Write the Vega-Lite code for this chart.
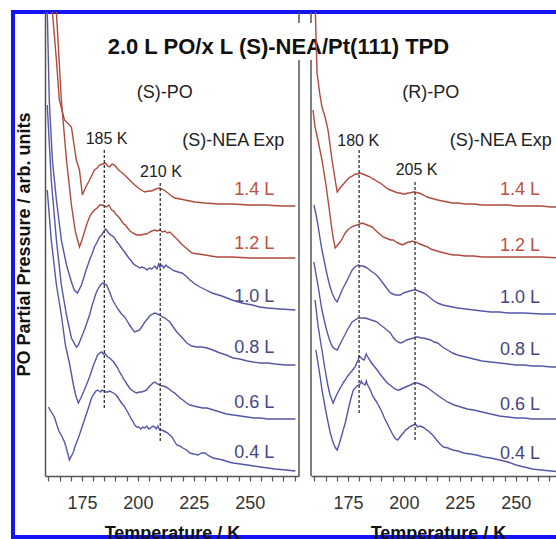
{
"$schema": "https://vega.github.io/schema/vega-lite/v6.json",
"width": 560, "height": 525,
"autosize": {"type": "none"},
"padding": {"left": 13, "top": 12, "right": -17, "bottom": 2},
"background": "white",
"config": {"view": {"stroke": "#1414f2", "strokeWidth": 4}, "font": "Liberation Sans", "axis": {"labelOverlap": false}, "axisX": {"labelOverlap": false}},
"datasets": {
"curves": [
{"p":"S","d":"1.4 L","T":160.4,"P":516},{"p":"S","d":"1.4 L","T":161.8,"P":464},{"p":"S","d":"1.4 L","T":163.6,"P":416},{"p":"S","d":"1.4 L","T":164.9,"P":376},{"p":"S","d":"1.4 L","T":167.2,"P":356},{"p":"S","d":"1.4 L","T":170.3,"P":349},{"p":"S","d":"1.4 L","T":172.5,"P":316},{"p":"S","d":"1.4 L","T":173.9,"P":306},{"p":"S","d":"1.4 L","T":175.2,"P":281},{"p":"S","d":"1.4 L","T":176.1,"P":286},{"p":"S","d":"1.4 L","T":177.2,"P":291},{"p":"S","d":"1.4 L","T":178.4,"P":296},{"p":"S","d":"1.4 L","T":179.5,"P":301},{"p":"S","d":"1.4 L","T":180.6,"P":306},{"p":"S","d":"1.4 L","T":181.8,"P":308},{"p":"S","d":"1.4 L","T":182.9,"P":311},{"p":"S","d":"1.4 L","T":184.2,"P":312},{"p":"S","d":"1.4 L","T":185.6,"P":313},{"p":"S","d":"1.4 L","T":186.5,"P":310},{"p":"S","d":"1.4 L","T":187.4,"P":309},{"p":"S","d":"1.4 L","T":188.5,"P":312},{"p":"S","d":"1.4 L","T":189.6,"P":311},{"p":"S","d":"1.4 L","T":191.0,"P":307},{"p":"S","d":"1.4 L","T":192.5,"P":304},{"p":"S","d":"1.4 L","T":194.1,"P":301},{"p":"S","d":"1.4 L","T":196.3,"P":296},{"p":"S","d":"1.4 L","T":198.6,"P":291},{"p":"S","d":"1.4 L","T":200.8,"P":287},{"p":"S","d":"1.4 L","T":203.1,"P":284},{"p":"S","d":"1.4 L","T":204.7,"P":285},{"p":"S","d":"1.4 L","T":206.2,"P":285},{"p":"S","d":"1.4 L","T":208.0,"P":287},{"p":"S","d":"1.4 L","T":209.8,"P":288},{"p":"S","d":"1.4 L","T":211.6,"P":286},{"p":"S","d":"1.4 L","T":213.4,"P":283},{"p":"S","d":"1.4 L","T":215.0,"P":280},{"p":"S","d":"1.4 L","T":216.5,"P":278},{"p":"S","d":"1.4 L","T":219.0,"P":277},{"p":"S","d":"1.4 L","T":221.0,"P":276},{"p":"S","d":"1.4 L","T":225.5,"P":274},{"p":"S","d":"1.4 L","T":230.0,"P":273},{"p":"S","d":"1.4 L","T":236.0,"P":272},{"p":"S","d":"1.4 L","T":242.1,"P":272},{"p":"S","d":"1.4 L","T":250.0,"P":271},{"p":"S","d":"1.4 L","T":257.0,"P":271},{"p":"S","d":"1.4 L","T":264.0,"P":270},{"p":"S","d":"1.4 L","T":270.4,"P":270},
{"p":"S","d":"1.2 L","T":162.2,"P":496},{"p":"S","d":"1.2 L","T":163.6,"P":464},{"p":"S","d":"1.2 L","T":165.8,"P":376},{"p":"S","d":"1.2 L","T":168.1,"P":316},{"p":"S","d":"1.2 L","T":170.3,"P":271},{"p":"S","d":"1.2 L","T":172.1,"P":244},{"p":"S","d":"1.2 L","T":173.9,"P":229},{"p":"S","d":"1.2 L","T":175.0,"P":236},{"p":"S","d":"1.2 L","T":176.1,"P":244},{"p":"S","d":"1.2 L","T":177.2,"P":252},{"p":"S","d":"1.2 L","T":178.4,"P":259},{"p":"S","d":"1.2 L","T":179.5,"P":263},{"p":"S","d":"1.2 L","T":180.6,"P":266},{"p":"S","d":"1.2 L","T":181.8,"P":268},{"p":"S","d":"1.2 L","T":182.9,"P":271},{"p":"S","d":"1.2 L","T":184.2,"P":271},{"p":"S","d":"1.2 L","T":185.1,"P":270},{"p":"S","d":"1.2 L","T":186.0,"P":269},{"p":"S","d":"1.2 L","T":187.0,"P":271},{"p":"S","d":"1.2 L","T":188.3,"P":266},{"p":"S","d":"1.2 L","T":189.2,"P":265},{"p":"S","d":"1.2 L","T":190.1,"P":262},{"p":"S","d":"1.2 L","T":191.0,"P":260},{"p":"S","d":"1.2 L","T":191.8,"P":258},{"p":"S","d":"1.2 L","T":193.6,"P":252},{"p":"S","d":"1.2 L","T":194.5,"P":251},{"p":"S","d":"1.2 L","T":195.4,"P":248},{"p":"S","d":"1.2 L","T":196.5,"P":245},{"p":"S","d":"1.2 L","T":197.7,"P":243},{"p":"S","d":"1.2 L","T":199.5,"P":241},{"p":"S","d":"1.2 L","T":201.7,"P":241},{"p":"S","d":"1.2 L","T":203.0,"P":242},{"p":"S","d":"1.2 L","T":204.0,"P":242},{"p":"S","d":"1.2 L","T":205.3,"P":244},{"p":"S","d":"1.2 L","T":206.2,"P":245},{"p":"S","d":"1.2 L","T":207.5,"P":246},{"p":"S","d":"1.2 L","T":208.5,"P":245},{"p":"S","d":"1.2 L","T":209.8,"P":246},{"p":"S","d":"1.2 L","T":211.0,"P":244},{"p":"S","d":"1.2 L","T":212.1,"P":245},{"p":"S","d":"1.2 L","T":213.2,"P":243},{"p":"S","d":"1.2 L","T":214.3,"P":244},{"p":"S","d":"1.2 L","T":216.0,"P":240},{"p":"S","d":"1.2 L","T":217.9,"P":236},{"p":"S","d":"1.2 L","T":219.5,"P":232},{"p":"S","d":"1.2 L","T":221.0,"P":229},{"p":"S","d":"1.2 L","T":222.6,"P":226},{"p":"S","d":"1.2 L","T":224.2,"P":223},{"p":"S","d":"1.2 L","T":227.0,"P":222},{"p":"S","d":"1.2 L","T":230.0,"P":221},{"p":"S","d":"1.2 L","T":235.4,"P":219},{"p":"S","d":"1.2 L","T":242.1,"P":219},{"p":"S","d":"1.2 L","T":250.0,"P":218},{"p":"S","d":"1.2 L","T":257.0,"P":218},{"p":"S","d":"1.2 L","T":264.0,"P":218},{"p":"S","d":"1.2 L","T":270.4,"P":218},
{"p":"S","d":"1.0 L","T":159.5,"P":466},{"p":"S","d":"1.0 L","T":160.4,"P":376},{"p":"S","d":"1.0 L","T":161.8,"P":316},{"p":"S","d":"1.0 L","T":163.6,"P":276},{"p":"S","d":"1.0 L","T":165.8,"P":236},{"p":"S","d":"1.0 L","T":168.1,"P":211},{"p":"S","d":"1.0 L","T":170.3,"P":194},{"p":"S","d":"1.0 L","T":171.6,"P":186},{"p":"S","d":"1.0 L","T":173.0,"P":183},{"p":"S","d":"1.0 L","T":174.8,"P":191},{"p":"S","d":"1.0 L","T":176.6,"P":204},{"p":"S","d":"1.0 L","T":178.4,"P":216},{"p":"S","d":"1.0 L","T":179.5,"P":222},{"p":"S","d":"1.0 L","T":180.6,"P":229},{"p":"S","d":"1.0 L","T":181.8,"P":234},{"p":"S","d":"1.0 L","T":182.9,"P":239},{"p":"S","d":"1.0 L","T":183.8,"P":241},{"p":"S","d":"1.0 L","T":184.7,"P":244},{"p":"S","d":"1.0 L","T":185.5,"P":247},{"p":"S","d":"1.0 L","T":186.0,"P":246},{"p":"S","d":"1.0 L","T":186.9,"P":243},{"p":"S","d":"1.0 L","T":187.8,"P":241},{"p":"S","d":"1.0 L","T":188.7,"P":240},{"p":"S","d":"1.0 L","T":189.6,"P":238},{"p":"S","d":"1.0 L","T":190.7,"P":234},{"p":"S","d":"1.0 L","T":191.8,"P":231},{"p":"S","d":"1.0 L","T":193.0,"P":227},{"p":"S","d":"1.0 L","T":194.1,"P":224},{"p":"S","d":"1.0 L","T":195.0,"P":221},{"p":"S","d":"1.0 L","T":195.9,"P":218},{"p":"S","d":"1.0 L","T":196.8,"P":216},{"p":"S","d":"1.0 L","T":197.7,"P":213},{"p":"S","d":"1.0 L","T":198.6,"P":211},{"p":"S","d":"1.0 L","T":199.5,"P":210},{"p":"S","d":"1.0 L","T":200.8,"P":208},{"p":"S","d":"1.0 L","T":201.7,"P":209},{"p":"S","d":"1.0 L","T":203.1,"P":208},{"p":"S","d":"1.0 L","T":204.0,"P":206},{"p":"S","d":"1.0 L","T":205.3,"P":208},{"p":"S","d":"1.0 L","T":206.2,"P":207},{"p":"S","d":"1.0 L","T":207.6,"P":210},{"p":"S","d":"1.0 L","T":208.5,"P":207},{"p":"S","d":"1.0 L","T":209.3,"P":212},{"p":"S","d":"1.0 L","T":209.8,"P":209},{"p":"S","d":"1.0 L","T":210.7,"P":211},{"p":"S","d":"1.0 L","T":211.6,"P":208},{"p":"S","d":"1.0 L","T":212.5,"P":211},{"p":"S","d":"1.0 L","T":213.4,"P":209},{"p":"S","d":"1.0 L","T":214.3,"P":208},{"p":"S","d":"1.0 L","T":215.5,"P":206},{"p":"S","d":"1.0 L","T":216.5,"P":205},{"p":"S","d":"1.0 L","T":218.0,"P":204},{"p":"S","d":"1.0 L","T":219.7,"P":203},{"p":"S","d":"1.0 L","T":221.5,"P":200},{"p":"S","d":"1.0 L","T":223.3,"P":196},{"p":"S","d":"1.0 L","T":225.5,"P":192},{"p":"S","d":"1.0 L","T":227.8,"P":189},{"p":"S","d":"1.0 L","T":230.4,"P":186},{"p":"S","d":"1.0 L","T":233.1,"P":183},{"p":"S","d":"1.0 L","T":237.5,"P":180},{"p":"S","d":"1.0 L","T":242.1,"P":176},{"p":"S","d":"1.0 L","T":246.5,"P":173},{"p":"S","d":"1.0 L","T":251.1,"P":171},{"p":"S","d":"1.0 L","T":254.5,"P":169},{"p":"S","d":"1.0 L","T":257.8,"P":168},{"p":"S","d":"1.0 L","T":263.6,"P":167},{"p":"S","d":"1.0 L","T":270.4,"P":166},
{"p":"S","d":"0.8 L","T":159.5,"P":371},{"p":"S","d":"0.8 L","T":161.3,"P":296},{"p":"S","d":"0.8 L","T":163.6,"P":236},{"p":"S","d":"0.8 L","T":165.8,"P":191},{"p":"S","d":"0.8 L","T":168.1,"P":161},{"p":"S","d":"0.8 L","T":170.3,"P":138},{"p":"S","d":"0.8 L","T":172.5,"P":129},{"p":"S","d":"0.8 L","T":173.4,"P":131},{"p":"S","d":"0.8 L","T":174.3,"P":136},{"p":"S","d":"0.8 L","T":175.2,"P":141},{"p":"S","d":"0.8 L","T":176.1,"P":146},{"p":"S","d":"0.8 L","T":177.2,"P":153},{"p":"S","d":"0.8 L","T":178.4,"P":161},{"p":"S","d":"0.8 L","T":179.5,"P":170},{"p":"S","d":"0.8 L","T":180.6,"P":178},{"p":"S","d":"0.8 L","T":181.5,"P":184},{"p":"S","d":"0.8 L","T":182.4,"P":188},{"p":"S","d":"0.8 L","T":183.3,"P":191},{"p":"S","d":"0.8 L","T":184.2,"P":193},{"p":"S","d":"0.8 L","T":185.1,"P":192},{"p":"S","d":"0.8 L","T":186.0,"P":191},{"p":"S","d":"0.8 L","T":187.4,"P":184},{"p":"S","d":"0.8 L","T":188.7,"P":176},{"p":"S","d":"0.8 L","T":190.0,"P":171},{"p":"S","d":"0.8 L","T":191.4,"P":166},{"p":"S","d":"0.8 L","T":192.7,"P":162},{"p":"S","d":"0.8 L","T":194.1,"P":159},{"p":"S","d":"0.8 L","T":195.2,"P":155},{"p":"S","d":"0.8 L","T":196.3,"P":151},{"p":"S","d":"0.8 L","T":197.5,"P":147},{"p":"S","d":"0.8 L","T":198.6,"P":144},{"p":"S","d":"0.8 L","T":199.7,"P":145},{"p":"S","d":"0.8 L","T":200.8,"P":146},{"p":"S","d":"0.8 L","T":202.0,"P":150},{"p":"S","d":"0.8 L","T":203.1,"P":154},{"p":"S","d":"0.8 L","T":204.2,"P":157},{"p":"S","d":"0.8 L","T":205.3,"P":160},{"p":"S","d":"0.8 L","T":206.5,"P":162},{"p":"S","d":"0.8 L","T":207.6,"P":163},{"p":"S","d":"0.8 L","T":208.7,"P":162},{"p":"S","d":"0.8 L","T":209.8,"P":161},{"p":"S","d":"0.8 L","T":211.0,"P":159},{"p":"S","d":"0.8 L","T":212.1,"P":158},{"p":"S","d":"0.8 L","T":213.2,"P":156},{"p":"S","d":"0.8 L","T":214.3,"P":154},{"p":"S","d":"0.8 L","T":215.8,"P":149},{"p":"S","d":"0.8 L","T":217.4,"P":144},{"p":"S","d":"0.8 L","T":219.5,"P":139},{"p":"S","d":"0.8 L","T":221.9,"P":133},{"p":"S","d":"0.8 L","T":224.0,"P":130},{"p":"S","d":"0.8 L","T":226.4,"P":129},{"p":"S","d":"0.8 L","T":228.5,"P":129},{"p":"S","d":"0.8 L","T":230.9,"P":128},{"p":"S","d":"0.8 L","T":233.5,"P":126},{"p":"S","d":"0.8 L","T":236.7,"P":123},{"p":"S","d":"0.8 L","T":239.5,"P":121},{"p":"S","d":"0.8 L","T":242.6,"P":118},{"p":"S","d":"0.8 L","T":245.5,"P":117},{"p":"S","d":"0.8 L","T":248.9,"P":115},{"p":"S","d":"0.8 L","T":251.5,"P":114},{"p":"S","d":"0.8 L","T":254.7,"P":113},{"p":"S","d":"0.8 L","T":258.0,"P":113},{"p":"S","d":"0.8 L","T":261.4,"P":112},{"p":"S","d":"0.8 L","T":266.0,"P":111},{"p":"S","d":"0.8 L","T":270.4,"P":111},
{"p":"S","d":"0.6 L","T":159.5,"P":286},{"p":"S","d":"0.6 L","T":161.3,"P":236},{"p":"S","d":"0.6 L","T":163.6,"P":191},{"p":"S","d":"0.6 L","T":165.8,"P":161},{"p":"S","d":"0.6 L","T":167.6,"P":131},{"p":"S","d":"0.6 L","T":169.4,"P":113},{"p":"S","d":"0.6 L","T":171.2,"P":91},{"p":"S","d":"0.6 L","T":172.3,"P":80},{"p":"S","d":"0.6 L","T":173.4,"P":73},{"p":"S","d":"0.6 L","T":174.5,"P":78},{"p":"S","d":"0.6 L","T":175.7,"P":84},{"p":"S","d":"0.6 L","T":177.0,"P":91},{"p":"S","d":"0.6 L","T":178.4,"P":99},{"p":"S","d":"0.6 L","T":179.3,"P":105},{"p":"S","d":"0.6 L","T":180.2,"P":111},{"p":"S","d":"0.6 L","T":181.1,"P":116},{"p":"S","d":"0.6 L","T":182.0,"P":121},{"p":"S","d":"0.6 L","T":182.9,"P":123},{"p":"S","d":"0.6 L","T":183.8,"P":124},{"p":"S","d":"0.6 L","T":184.5,"P":122},{"p":"S","d":"0.6 L","T":185.1,"P":123},{"p":"S","d":"0.6 L","T":185.8,"P":121},{"p":"S","d":"0.6 L","T":186.5,"P":119},{"p":"S","d":"0.6 L","T":187.4,"P":118},{"p":"S","d":"0.6 L","T":188.3,"P":116},{"p":"S","d":"0.6 L","T":189.2,"P":114},{"p":"S","d":"0.6 L","T":190.1,"P":111},{"p":"S","d":"0.6 L","T":191.0,"P":108},{"p":"S","d":"0.6 L","T":191.8,"P":104},{"p":"S","d":"0.6 L","T":192.7,"P":101},{"p":"S","d":"0.6 L","T":193.6,"P":97},{"p":"S","d":"0.6 L","T":194.5,"P":94},{"p":"S","d":"0.6 L","T":195.4,"P":91},{"p":"S","d":"0.6 L","T":196.3,"P":88},{"p":"S","d":"0.6 L","T":197.2,"P":86},{"p":"S","d":"0.6 L","T":198.4,"P":84},{"p":"S","d":"0.6 L","T":199.5,"P":83},{"p":"S","d":"0.6 L","T":200.6,"P":84},{"p":"S","d":"0.6 L","T":201.7,"P":84},{"p":"S","d":"0.6 L","T":202.9,"P":85},{"p":"S","d":"0.6 L","T":204.0,"P":86},{"p":"S","d":"0.6 L","T":204.9,"P":89},{"p":"S","d":"0.6 L","T":205.8,"P":91},{"p":"S","d":"0.6 L","T":206.7,"P":93},{"p":"S","d":"0.6 L","T":207.6,"P":94},{"p":"S","d":"0.6 L","T":208.7,"P":92},{"p":"S","d":"0.6 L","T":209.8,"P":91},{"p":"S","d":"0.6 L","T":210.7,"P":90},{"p":"S","d":"0.6 L","T":211.6,"P":90},{"p":"S","d":"0.6 L","T":212.5,"P":89},{"p":"S","d":"0.6 L","T":213.4,"P":88},{"p":"S","d":"0.6 L","T":214.5,"P":86},{"p":"S","d":"0.6 L","T":215.6,"P":84},{"p":"S","d":"0.6 L","T":216.5,"P":83},{"p":"S","d":"0.6 L","T":217.4,"P":81},{"p":"S","d":"0.6 L","T":218.8,"P":78},{"p":"S","d":"0.6 L","T":220.1,"P":76},{"p":"S","d":"0.6 L","T":221.7,"P":73},{"p":"S","d":"0.6 L","T":223.3,"P":71},{"p":"S","d":"0.6 L","T":225.0,"P":70},{"p":"S","d":"0.6 L","T":226.9,"P":69},{"p":"S","d":"0.6 L","T":229.0,"P":68},{"p":"S","d":"0.6 L","T":230.9,"P":68},{"p":"S","d":"0.6 L","T":233.8,"P":66},{"p":"S","d":"0.6 L","T":236.7,"P":64},{"p":"S","d":"0.6 L","T":239.5,"P":62},{"p":"S","d":"0.6 L","T":242.6,"P":61},{"p":"S","d":"0.6 L","T":245.8,"P":60},{"p":"S","d":"0.6 L","T":248.9,"P":59},{"p":"S","d":"0.6 L","T":251.8,"P":58},{"p":"S","d":"0.6 L","T":254.7,"P":58},{"p":"S","d":"0.6 L","T":258.0,"P":57},{"p":"S","d":"0.6 L","T":261.4,"P":57},{"p":"S","d":"0.6 L","T":266.0,"P":57},{"p":"S","d":"0.6 L","T":270.4,"P":57},
{"p":"S","d":"0.4 L","T":160.0,"P":69},{"p":"S","d":"0.4 L","T":161.3,"P":64},{"p":"S","d":"0.4 L","T":162.7,"P":59},{"p":"S","d":"0.4 L","T":163.8,"P":51},{"p":"S","d":"0.4 L","T":164.9,"P":44},{"p":"S","d":"0.4 L","T":166.0,"P":40},{"p":"S","d":"0.4 L","T":167.2,"P":34},{"p":"S","d":"0.4 L","T":167.9,"P":29},{"p":"S","d":"0.4 L","T":168.5,"P":24},{"p":"S","d":"0.4 L","T":169.0,"P":20},{"p":"S","d":"0.4 L","T":169.4,"P":16},{"p":"S","d":"0.4 L","T":170.3,"P":20},{"p":"S","d":"0.4 L","T":171.2,"P":24},{"p":"S","d":"0.4 L","T":171.8,"P":29},{"p":"S","d":"0.4 L","T":172.5,"P":33},{"p":"S","d":"0.4 L","T":173.4,"P":38},{"p":"S","d":"0.4 L","T":174.3,"P":44},{"p":"S","d":"0.4 L","T":175.2,"P":50},{"p":"S","d":"0.4 L","T":176.1,"P":56},{"p":"S","d":"0.4 L","T":177.0,"P":62},{"p":"S","d":"0.4 L","T":177.9,"P":68},{"p":"S","d":"0.4 L","T":178.6,"P":73},{"p":"S","d":"0.4 L","T":179.3,"P":78},{"p":"S","d":"0.4 L","T":180.0,"P":81},{"p":"S","d":"0.4 L","T":180.6,"P":83},{"p":"S","d":"0.4 L","T":181.3,"P":85},{"p":"S","d":"0.4 L","T":182.0,"P":86},{"p":"S","d":"0.4 L","T":182.7,"P":85},{"p":"S","d":"0.4 L","T":183.3,"P":84},{"p":"S","d":"0.4 L","T":184.0,"P":86},{"p":"S","d":"0.4 L","T":184.7,"P":85},{"p":"S","d":"0.4 L","T":185.6,"P":84},{"p":"S","d":"0.4 L","T":186.5,"P":84},{"p":"S","d":"0.4 L","T":187.4,"P":85},{"p":"S","d":"0.4 L","T":188.3,"P":84},{"p":"S","d":"0.4 L","T":189.0,"P":83},{"p":"S","d":"0.4 L","T":189.6,"P":82},{"p":"S","d":"0.4 L","T":190.3,"P":81},{"p":"S","d":"0.4 L","T":190.9,"P":79},{"p":"S","d":"0.4 L","T":191.8,"P":76},{"p":"S","d":"0.4 L","T":192.7,"P":73},{"p":"S","d":"0.4 L","T":193.8,"P":70},{"p":"S","d":"0.4 L","T":194.9,"P":66},{"p":"S","d":"0.4 L","T":195.9,"P":62},{"p":"S","d":"0.4 L","T":196.8,"P":58},{"p":"S","d":"0.4 L","T":197.7,"P":55},{"p":"S","d":"0.4 L","T":198.6,"P":51},{"p":"S","d":"0.4 L","T":199.5,"P":49},{"p":"S","d":"0.4 L","T":200.4,"P":49},{"p":"S","d":"0.4 L","T":201.3,"P":47},{"p":"S","d":"0.4 L","T":202.2,"P":49},{"p":"S","d":"0.4 L","T":203.1,"P":48},{"p":"S","d":"0.4 L","T":204.0,"P":50},{"p":"S","d":"0.4 L","T":204.9,"P":47},{"p":"S","d":"0.4 L","T":205.8,"P":48},{"p":"S","d":"0.4 L","T":206.7,"P":50},{"p":"S","d":"0.4 L","T":207.6,"P":49},{"p":"S","d":"0.4 L","T":208.2,"P":47},{"p":"S","d":"0.4 L","T":208.9,"P":50},{"p":"S","d":"0.4 L","T":209.8,"P":46},{"p":"S","d":"0.4 L","T":210.7,"P":46},{"p":"S","d":"0.4 L","T":211.6,"P":45},{"p":"S","d":"0.4 L","T":212.5,"P":44},{"p":"S","d":"0.4 L","T":213.4,"P":43},{"p":"S","d":"0.4 L","T":214.3,"P":41},{"p":"S","d":"0.4 L","T":215.2,"P":39},{"p":"S","d":"0.4 L","T":216.3,"P":35},{"p":"S","d":"0.4 L","T":217.4,"P":31},{"p":"S","d":"0.4 L","T":218.8,"P":30},{"p":"S","d":"0.4 L","T":220.1,"P":28},{"p":"S","d":"0.4 L","T":221.7,"P":26},{"p":"S","d":"0.4 L","T":223.3,"P":23},{"p":"S","d":"0.4 L","T":225.0,"P":22},{"p":"S","d":"0.4 L","T":226.9,"P":21},{"p":"S","d":"0.4 L","T":228.5,"P":23},{"p":"S","d":"0.4 L","T":230.0,"P":23},{"p":"S","d":"0.4 L","T":231.8,"P":20},{"p":"S","d":"0.4 L","T":233.6,"P":18},{"p":"S","d":"0.4 L","T":235.8,"P":17},{"p":"S","d":"0.4 L","T":238.1,"P":16},{"p":"S","d":"0.4 L","T":240.5,"P":14},{"p":"S","d":"0.4 L","T":242.6,"P":13},{"p":"S","d":"0.4 L","T":245.8,"P":12},{"p":"S","d":"0.4 L","T":248.9,"P":11},{"p":"S","d":"0.4 L","T":251.8,"P":10},{"p":"S","d":"0.4 L","T":254.7,"P":9},{"p":"S","d":"0.4 L","T":258.0,"P":8},{"p":"S","d":"0.4 L","T":261.4,"P":7},{"p":"S","d":"0.4 L","T":266.0,"P":6},{"p":"S","d":"0.4 L","T":270.4,"P":5},
{"p":"R","d":"1.4 L","T":159.4,"P":520},{"p":"R","d":"1.4 L","T":160.3,"P":476},{"p":"R","d":"1.4 L","T":161.2,"P":403},{"p":"R","d":"1.4 L","T":162.5,"P":381},{"p":"R","d":"1.4 L","T":163.4,"P":369},{"p":"R","d":"1.4 L","T":164.8,"P":359},{"p":"R","d":"1.4 L","T":166.1,"P":346},{"p":"R","d":"1.4 L","T":167.0,"P":331},{"p":"R","d":"1.4 L","T":167.9,"P":316},{"p":"R","d":"1.4 L","T":168.6,"P":306},{"p":"R","d":"1.4 L","T":169.3,"P":296},{"p":"R","d":"1.4 L","T":170.2,"P":284},{"p":"R","d":"1.4 L","T":170.8,"P":286},{"p":"R","d":"1.4 L","T":171.5,"P":288},{"p":"R","d":"1.4 L","T":172.6,"P":291},{"p":"R","d":"1.4 L","T":173.8,"P":294},{"p":"R","d":"1.4 L","T":174.9,"P":297},{"p":"R","d":"1.4 L","T":176.0,"P":299},{"p":"R","d":"1.4 L","T":177.1,"P":300},{"p":"R","d":"1.4 L","T":178.2,"P":302},{"p":"R","d":"1.4 L","T":179.4,"P":302},{"p":"R","d":"1.4 L","T":180.5,"P":303},{"p":"R","d":"1.4 L","T":181.6,"P":302},{"p":"R","d":"1.4 L","T":182.7,"P":301},{"p":"R","d":"1.4 L","T":183.8,"P":300},{"p":"R","d":"1.4 L","T":185.0,"P":299},{"p":"R","d":"1.4 L","T":186.1,"P":297},{"p":"R","d":"1.4 L","T":187.2,"P":296},{"p":"R","d":"1.4 L","T":188.4,"P":294},{"p":"R","d":"1.4 L","T":189.5,"P":293},{"p":"R","d":"1.4 L","T":190.6,"P":291},{"p":"R","d":"1.4 L","T":191.7,"P":289},{"p":"R","d":"1.4 L","T":192.8,"P":287},{"p":"R","d":"1.4 L","T":194.0,"P":286},{"p":"R","d":"1.4 L","T":195.1,"P":285},{"p":"R","d":"1.4 L","T":196.2,"P":284},{"p":"R","d":"1.4 L","T":197.3,"P":283},{"p":"R","d":"1.4 L","T":198.4,"P":283},{"p":"R","d":"1.4 L","T":199.6,"P":282},{"p":"R","d":"1.4 L","T":200.7,"P":282},{"p":"R","d":"1.4 L","T":201.8,"P":283},{"p":"R","d":"1.4 L","T":202.9,"P":283},{"p":"R","d":"1.4 L","T":204.0,"P":284},{"p":"R","d":"1.4 L","T":205.2,"P":284},{"p":"R","d":"1.4 L","T":206.1,"P":283},{"p":"R","d":"1.4 L","T":207.0,"P":283},{"p":"R","d":"1.4 L","T":208.8,"P":281},{"p":"R","d":"1.4 L","T":210.3,"P":279},{"p":"R","d":"1.4 L","T":211.9,"P":278},{"p":"R","d":"1.4 L","T":213.5,"P":277},{"p":"R","d":"1.4 L","T":215.1,"P":276},{"p":"R","d":"1.4 L","T":217.3,"P":275},{"p":"R","d":"1.4 L","T":219.5,"P":274},{"p":"R","d":"1.4 L","T":221.8,"P":273},{"p":"R","d":"1.4 L","T":224.0,"P":273},{"p":"R","d":"1.4 L","T":227.6,"P":272},{"p":"R","d":"1.4 L","T":231.2,"P":272},{"p":"R","d":"1.4 L","T":235.0,"P":271},{"p":"R","d":"1.4 L","T":238.8,"P":271},{"p":"R","d":"1.4 L","T":242.7,"P":271},{"p":"R","d":"1.4 L","T":246.5,"P":271},{"p":"R","d":"1.4 L","T":250.1,"P":270},{"p":"R","d":"1.4 L","T":253.7,"P":270},{"p":"R","d":"1.4 L","T":257.5,"P":270},{"p":"R","d":"1.4 L","T":261.3,"P":270},{"p":"R","d":"1.4 L","T":265.8,"P":269},{"p":"R","d":"1.4 L","T":270.3,"P":269},
{"p":"R","d":"1.2 L","T":159.4,"P":366},{"p":"R","d":"1.2 L","T":160.3,"P":349},{"p":"R","d":"1.2 L","T":161.6,"P":336},{"p":"R","d":"1.2 L","T":163.4,"P":316},{"p":"R","d":"1.2 L","T":165.2,"P":291},{"p":"R","d":"1.2 L","T":166.1,"P":276},{"p":"R","d":"1.2 L","T":167.0,"P":261},{"p":"R","d":"1.2 L","T":167.7,"P":249},{"p":"R","d":"1.2 L","T":168.4,"P":238},{"p":"R","d":"1.2 L","T":169.3,"P":228},{"p":"R","d":"1.2 L","T":170.4,"P":231},{"p":"R","d":"1.2 L","T":171.5,"P":234},{"p":"R","d":"1.2 L","T":172.6,"P":238},{"p":"R","d":"1.2 L","T":173.8,"P":243},{"p":"R","d":"1.2 L","T":174.9,"P":246},{"p":"R","d":"1.2 L","T":176.0,"P":248},{"p":"R","d":"1.2 L","T":177.5,"P":250},{"p":"R","d":"1.2 L","T":179.1,"P":251},{"p":"R","d":"1.2 L","T":180.3,"P":252},{"p":"R","d":"1.2 L","T":181.4,"P":253},{"p":"R","d":"1.2 L","T":182.5,"P":252},{"p":"R","d":"1.2 L","T":183.6,"P":251},{"p":"R","d":"1.2 L","T":184.7,"P":250},{"p":"R","d":"1.2 L","T":185.9,"P":249},{"p":"R","d":"1.2 L","T":187.2,"P":246},{"p":"R","d":"1.2 L","T":188.6,"P":243},{"p":"R","d":"1.2 L","T":189.7,"P":241},{"p":"R","d":"1.2 L","T":190.8,"P":239},{"p":"R","d":"1.2 L","T":191.9,"P":238},{"p":"R","d":"1.2 L","T":193.1,"P":237},{"p":"R","d":"1.2 L","T":194.2,"P":236},{"p":"R","d":"1.2 L","T":195.3,"P":236},{"p":"R","d":"1.2 L","T":196.4,"P":234},{"p":"R","d":"1.2 L","T":197.5,"P":233},{"p":"R","d":"1.2 L","T":198.4,"P":232},{"p":"R","d":"1.2 L","T":199.3,"P":231},{"p":"R","d":"1.2 L","T":200.2,"P":232},{"p":"R","d":"1.2 L","T":201.1,"P":233},{"p":"R","d":"1.2 L","T":202.0,"P":234},{"p":"R","d":"1.2 L","T":202.9,"P":234},{"p":"R","d":"1.2 L","T":203.8,"P":235},{"p":"R","d":"1.2 L","T":204.7,"P":234},{"p":"R","d":"1.2 L","T":205.4,"P":234},{"p":"R","d":"1.2 L","T":206.1,"P":233},{"p":"R","d":"1.2 L","T":207.2,"P":232},{"p":"R","d":"1.2 L","T":208.3,"P":231},{"p":"R","d":"1.2 L","T":209.4,"P":230},{"p":"R","d":"1.2 L","T":210.6,"P":229},{"p":"R","d":"1.2 L","T":212.0,"P":227},{"p":"R","d":"1.2 L","T":213.3,"P":226},{"p":"R","d":"1.2 L","T":214.9,"P":225},{"p":"R","d":"1.2 L","T":216.4,"P":224},{"p":"R","d":"1.2 L","T":218.2,"P":223},{"p":"R","d":"1.2 L","T":220.0,"P":222},{"p":"R","d":"1.2 L","T":222.0,"P":221},{"p":"R","d":"1.2 L","T":224.0,"P":221},{"p":"R","d":"1.2 L","T":227.6,"P":220},{"p":"R","d":"1.2 L","T":231.2,"P":220},{"p":"R","d":"1.2 L","T":235.0,"P":219},{"p":"R","d":"1.2 L","T":238.8,"P":219},{"p":"R","d":"1.2 L","T":246.5,"P":219},{"p":"R","d":"1.2 L","T":253.7,"P":219},{"p":"R","d":"1.2 L","T":261.3,"P":219},{"p":"R","d":"1.2 L","T":270.3,"P":218},
{"p":"R","d":"1.0 L","T":159.8,"P":271},{"p":"R","d":"1.0 L","T":160.7,"P":262},{"p":"R","d":"1.0 L","T":161.6,"P":251},{"p":"R","d":"1.0 L","T":162.5,"P":238},{"p":"R","d":"1.0 L","T":163.4,"P":226},{"p":"R","d":"1.0 L","T":164.6,"P":213},{"p":"R","d":"1.0 L","T":165.7,"P":201},{"p":"R","d":"1.0 L","T":166.8,"P":191},{"p":"R","d":"1.0 L","T":167.9,"P":183},{"p":"R","d":"1.0 L","T":169.1,"P":177},{"p":"R","d":"1.0 L","T":170.2,"P":174},{"p":"R","d":"1.0 L","T":171.3,"P":180},{"p":"R","d":"1.0 L","T":172.4,"P":186},{"p":"R","d":"1.0 L","T":173.6,"P":191},{"p":"R","d":"1.0 L","T":174.7,"P":196},{"p":"R","d":"1.0 L","T":175.8,"P":201},{"p":"R","d":"1.0 L","T":176.9,"P":206},{"p":"R","d":"1.0 L","T":178.2,"P":209},{"p":"R","d":"1.0 L","T":179.6,"P":211},{"p":"R","d":"1.0 L","T":180.7,"P":210},{"p":"R","d":"1.0 L","T":181.8,"P":210},{"p":"R","d":"1.0 L","T":182.7,"P":209},{"p":"R","d":"1.0 L","T":183.6,"P":208},{"p":"R","d":"1.0 L","T":184.7,"P":206},{"p":"R","d":"1.0 L","T":185.9,"P":204},{"p":"R","d":"1.0 L","T":187.2,"P":202},{"p":"R","d":"1.0 L","T":188.6,"P":199},{"p":"R","d":"1.0 L","T":189.9,"P":195},{"p":"R","d":"1.0 L","T":191.3,"P":191},{"p":"R","d":"1.0 L","T":192.6,"P":187},{"p":"R","d":"1.0 L","T":194.0,"P":183},{"p":"R","d":"1.0 L","T":195.1,"P":182},{"p":"R","d":"1.0 L","T":196.2,"P":181},{"p":"R","d":"1.0 L","T":197.3,"P":181},{"p":"R","d":"1.0 L","T":198.4,"P":181},{"p":"R","d":"1.0 L","T":199.8,"P":183},{"p":"R","d":"1.0 L","T":201.1,"P":184},{"p":"R","d":"1.0 L","T":202.7,"P":185},{"p":"R","d":"1.0 L","T":204.3,"P":186},{"p":"R","d":"1.0 L","T":205.4,"P":186},{"p":"R","d":"1.0 L","T":206.5,"P":185},{"p":"R","d":"1.0 L","T":207.7,"P":184},{"p":"R","d":"1.0 L","T":208.8,"P":183},{"p":"R","d":"1.0 L","T":210.3,"P":181},{"p":"R","d":"1.0 L","T":211.9,"P":178},{"p":"R","d":"1.0 L","T":213.5,"P":175},{"p":"R","d":"1.0 L","T":215.1,"P":173},{"p":"R","d":"1.0 L","T":217.3,"P":171},{"p":"R","d":"1.0 L","T":219.5,"P":170},{"p":"R","d":"1.0 L","T":221.8,"P":169},{"p":"R","d":"1.0 L","T":224.0,"P":168},{"p":"R","d":"1.0 L","T":227.6,"P":167},{"p":"R","d":"1.0 L","T":231.2,"P":166},{"p":"R","d":"1.0 L","T":235.0,"P":165},{"p":"R","d":"1.0 L","T":238.8,"P":164},{"p":"R","d":"1.0 L","T":242.7,"P":164},{"p":"R","d":"1.0 L","T":246.5,"P":163},{"p":"R","d":"1.0 L","T":253.7,"P":163},{"p":"R","d":"1.0 L","T":261.3,"P":162},{"p":"R","d":"1.0 L","T":270.3,"P":162},
{"p":"R","d":"0.8 L","T":159.8,"P":214},{"p":"R","d":"0.8 L","T":160.7,"P":202},{"p":"R","d":"0.8 L","T":161.6,"P":191},{"p":"R","d":"0.8 L","T":162.5,"P":178},{"p":"R","d":"0.8 L","T":163.4,"P":166},{"p":"R","d":"0.8 L","T":164.6,"P":154},{"p":"R","d":"0.8 L","T":165.7,"P":144},{"p":"R","d":"0.8 L","T":166.8,"P":136},{"p":"R","d":"0.8 L","T":167.9,"P":130},{"p":"R","d":"0.8 L","T":169.1,"P":127},{"p":"R","d":"0.8 L","T":170.2,"P":126},{"p":"R","d":"0.8 L","T":171.3,"P":131},{"p":"R","d":"0.8 L","T":172.4,"P":136},{"p":"R","d":"0.8 L","T":173.6,"P":141},{"p":"R","d":"0.8 L","T":174.7,"P":146},{"p":"R","d":"0.8 L","T":175.8,"P":150},{"p":"R","d":"0.8 L","T":176.9,"P":154},{"p":"R","d":"0.8 L","T":178.2,"P":156},{"p":"R","d":"0.8 L","T":179.6,"P":158},{"p":"R","d":"0.8 L","T":181.1,"P":158},{"p":"R","d":"0.8 L","T":182.7,"P":158},{"p":"R","d":"0.8 L","T":184.1,"P":157},{"p":"R","d":"0.8 L","T":185.4,"P":156},{"p":"R","d":"0.8 L","T":186.8,"P":155},{"p":"R","d":"0.8 L","T":188.1,"P":154},{"p":"R","d":"0.8 L","T":189.5,"P":151},{"p":"R","d":"0.8 L","T":190.8,"P":149},{"p":"R","d":"0.8 L","T":192.4,"P":146},{"p":"R","d":"0.8 L","T":194.0,"P":143},{"p":"R","d":"0.8 L","T":195.1,"P":139},{"p":"R","d":"0.8 L","T":196.2,"P":136},{"p":"R","d":"0.8 L","T":197.3,"P":134},{"p":"R","d":"0.8 L","T":198.4,"P":133},{"p":"R","d":"0.8 L","T":199.8,"P":134},{"p":"R","d":"0.8 L","T":201.1,"P":136},{"p":"R","d":"0.8 L","T":202.7,"P":137},{"p":"R","d":"0.8 L","T":204.3,"P":138},{"p":"R","d":"0.8 L","T":205.4,"P":139},{"p":"R","d":"0.8 L","T":206.5,"P":139},{"p":"R","d":"0.8 L","T":207.7,"P":138},{"p":"R","d":"0.8 L","T":208.8,"P":138},{"p":"R","d":"0.8 L","T":210.3,"P":137},{"p":"R","d":"0.8 L","T":211.9,"P":136},{"p":"R","d":"0.8 L","T":213.5,"P":134},{"p":"R","d":"0.8 L","T":215.1,"P":133},{"p":"R","d":"0.8 L","T":217.3,"P":129},{"p":"R","d":"0.8 L","T":219.5,"P":126},{"p":"R","d":"0.8 L","T":221.8,"P":123},{"p":"R","d":"0.8 L","T":224.0,"P":121},{"p":"R","d":"0.8 L","T":227.6,"P":119},{"p":"R","d":"0.8 L","T":231.2,"P":117},{"p":"R","d":"0.8 L","T":235.0,"P":115},{"p":"R","d":"0.8 L","T":238.8,"P":114},{"p":"R","d":"0.8 L","T":242.7,"P":113},{"p":"R","d":"0.8 L","T":246.5,"P":112},{"p":"R","d":"0.8 L","T":250.1,"P":111},{"p":"R","d":"0.8 L","T":253.7,"P":111},{"p":"R","d":"0.8 L","T":257.5,"P":110},{"p":"R","d":"0.8 L","T":261.3,"P":110},{"p":"R","d":"0.8 L","T":265.8,"P":109},{"p":"R","d":"0.8 L","T":270.3,"P":109},
{"p":"R","d":"0.6 L","T":160.3,"P":176},{"p":"R","d":"0.6 L","T":161.0,"P":163},{"p":"R","d":"0.6 L","T":161.6,"P":151},{"p":"R","d":"0.6 L","T":162.5,"P":138},{"p":"R","d":"0.6 L","T":163.4,"P":126},{"p":"R","d":"0.6 L","T":164.3,"P":113},{"p":"R","d":"0.6 L","T":165.2,"P":101},{"p":"R","d":"0.6 L","T":166.1,"P":90},{"p":"R","d":"0.6 L","T":167.0,"P":81},{"p":"R","d":"0.6 L","T":167.7,"P":77},{"p":"R","d":"0.6 L","T":168.4,"P":73},{"p":"R","d":"0.6 L","T":169.5,"P":79},{"p":"R","d":"0.6 L","T":170.6,"P":84},{"p":"R","d":"0.6 L","T":171.5,"P":88},{"p":"R","d":"0.6 L","T":172.4,"P":91},{"p":"R","d":"0.6 L","T":173.1,"P":94},{"p":"R","d":"0.6 L","T":173.8,"P":96},{"p":"R","d":"0.6 L","T":174.9,"P":100},{"p":"R","d":"0.6 L","T":176.0,"P":103},{"p":"R","d":"0.6 L","T":177.1,"P":106},{"p":"R","d":"0.6 L","T":178.2,"P":109},{"p":"R","d":"0.6 L","T":178.9,"P":113},{"p":"R","d":"0.6 L","T":179.6,"P":116},{"p":"R","d":"0.6 L","T":180.0,"P":120},{"p":"R","d":"0.6 L","T":180.5,"P":119},{"p":"R","d":"0.6 L","T":181.4,"P":117},{"p":"R","d":"0.6 L","T":182.3,"P":116},{"p":"R","d":"0.6 L","T":182.7,"P":119},{"p":"R","d":"0.6 L","T":183.2,"P":122},{"p":"R","d":"0.6 L","T":183.6,"P":120},{"p":"R","d":"0.6 L","T":184.1,"P":118},{"p":"R","d":"0.6 L","T":185.0,"P":115},{"p":"R","d":"0.6 L","T":185.9,"P":112},{"p":"R","d":"0.6 L","T":187.0,"P":109},{"p":"R","d":"0.6 L","T":188.1,"P":106},{"p":"R","d":"0.6 L","T":189.3,"P":102},{"p":"R","d":"0.6 L","T":190.4,"P":99},{"p":"R","d":"0.6 L","T":191.5,"P":96},{"p":"R","d":"0.6 L","T":192.6,"P":93},{"p":"R","d":"0.6 L","T":193.8,"P":91},{"p":"R","d":"0.6 L","T":194.9,"P":89},{"p":"R","d":"0.6 L","T":196.0,"P":87},{"p":"R","d":"0.6 L","T":197.1,"P":86},{"p":"R","d":"0.6 L","T":198.0,"P":86},{"p":"R","d":"0.6 L","T":198.9,"P":87},{"p":"R","d":"0.6 L","T":199.8,"P":88},{"p":"R","d":"0.6 L","T":200.7,"P":89},{"p":"R","d":"0.6 L","T":201.8,"P":90},{"p":"R","d":"0.6 L","T":202.9,"P":91},{"p":"R","d":"0.6 L","T":203.8,"P":92},{"p":"R","d":"0.6 L","T":204.7,"P":93},{"p":"R","d":"0.6 L","T":205.4,"P":93},{"p":"R","d":"0.6 L","T":206.1,"P":93},{"p":"R","d":"0.6 L","T":207.2,"P":92},{"p":"R","d":"0.6 L","T":208.3,"P":91},{"p":"R","d":"0.6 L","T":210.1,"P":89},{"p":"R","d":"0.6 L","T":211.9,"P":86},{"p":"R","d":"0.6 L","T":213.7,"P":83},{"p":"R","d":"0.6 L","T":215.5,"P":80},{"p":"R","d":"0.6 L","T":217.5,"P":77},{"p":"R","d":"0.6 L","T":219.5,"P":74},{"p":"R","d":"0.6 L","T":222.5,"P":71},{"p":"R","d":"0.6 L","T":225.4,"P":69},{"p":"R","d":"0.6 L","T":228.3,"P":67},{"p":"R","d":"0.6 L","T":231.2,"P":66},{"p":"R","d":"0.6 L","T":235.0,"P":64},{"p":"R","d":"0.6 L","T":238.8,"P":62},{"p":"R","d":"0.6 L","T":242.7,"P":60},{"p":"R","d":"0.6 L","T":246.5,"P":59},{"p":"R","d":"0.6 L","T":250.1,"P":58},{"p":"R","d":"0.6 L","T":253.7,"P":58},{"p":"R","d":"0.6 L","T":257.5,"P":57},{"p":"R","d":"0.6 L","T":261.3,"P":57},{"p":"R","d":"0.6 L","T":265.8,"P":57},{"p":"R","d":"0.6 L","T":270.3,"P":57},
{"p":"R","d":"0.4 L","T":160.7,"P":126},{"p":"R","d":"0.4 L","T":161.4,"P":116},{"p":"R","d":"0.4 L","T":162.1,"P":106},{"p":"R","d":"0.4 L","T":162.8,"P":96},{"p":"R","d":"0.4 L","T":163.4,"P":86},{"p":"R","d":"0.4 L","T":164.3,"P":75},{"p":"R","d":"0.4 L","T":165.2,"P":64},{"p":"R","d":"0.4 L","T":166.1,"P":54},{"p":"R","d":"0.4 L","T":167.0,"P":44},{"p":"R","d":"0.4 L","T":167.9,"P":37},{"p":"R","d":"0.4 L","T":168.8,"P":31},{"p":"R","d":"0.4 L","T":169.5,"P":28},{"p":"R","d":"0.4 L","T":170.2,"P":26},{"p":"R","d":"0.4 L","T":171.1,"P":32},{"p":"R","d":"0.4 L","T":172.0,"P":39},{"p":"R","d":"0.4 L","T":172.9,"P":46},{"p":"R","d":"0.4 L","T":173.8,"P":53},{"p":"R","d":"0.4 L","T":174.7,"P":62},{"p":"R","d":"0.4 L","T":175.6,"P":71},{"p":"R","d":"0.4 L","T":176.5,"P":79},{"p":"R","d":"0.4 L","T":177.4,"P":86},{"p":"R","d":"0.4 L","T":178.2,"P":88},{"p":"R","d":"0.4 L","T":179.1,"P":90},{"p":"R","d":"0.4 L","T":179.8,"P":91},{"p":"R","d":"0.4 L","T":180.5,"P":92},{"p":"R","d":"0.4 L","T":181.0,"P":95},{"p":"R","d":"0.4 L","T":181.4,"P":93},{"p":"R","d":"0.4 L","T":182.0,"P":92},{"p":"R","d":"0.4 L","T":182.7,"P":91},{"p":"R","d":"0.4 L","T":183.2,"P":95},{"p":"R","d":"0.4 L","T":183.6,"P":92},{"p":"R","d":"0.4 L","T":184.3,"P":89},{"p":"R","d":"0.4 L","T":185.0,"P":86},{"p":"R","d":"0.4 L","T":185.7,"P":82},{"p":"R","d":"0.4 L","T":186.3,"P":79},{"p":"R","d":"0.4 L","T":187.5,"P":75},{"p":"R","d":"0.4 L","T":188.6,"P":71},{"p":"R","d":"0.4 L","T":189.5,"P":67},{"p":"R","d":"0.4 L","T":190.4,"P":63},{"p":"R","d":"0.4 L","T":191.3,"P":58},{"p":"R","d":"0.4 L","T":192.2,"P":54},{"p":"R","d":"0.4 L","T":193.1,"P":50},{"p":"R","d":"0.4 L","T":194.0,"P":46},{"p":"R","d":"0.4 L","T":194.9,"P":42},{"p":"R","d":"0.4 L","T":195.7,"P":39},{"p":"R","d":"0.4 L","T":196.4,"P":37},{"p":"R","d":"0.4 L","T":197.1,"P":36},{"p":"R","d":"0.4 L","T":198.0,"P":38},{"p":"R","d":"0.4 L","T":198.9,"P":41},{"p":"R","d":"0.4 L","T":199.8,"P":43},{"p":"R","d":"0.4 L","T":200.7,"P":46},{"p":"R","d":"0.4 L","T":201.6,"P":47},{"p":"R","d":"0.4 L","T":202.4,"P":49},{"p":"R","d":"0.4 L","T":203.3,"P":50},{"p":"R","d":"0.4 L","T":204.3,"P":51},{"p":"R","d":"0.4 L","T":205.2,"P":52},{"p":"R","d":"0.4 L","T":206.1,"P":49},{"p":"R","d":"0.4 L","T":207.2,"P":50},{"p":"R","d":"0.4 L","T":208.3,"P":49},{"p":"R","d":"0.4 L","T":209.2,"P":48},{"p":"R","d":"0.4 L","T":210.1,"P":46},{"p":"R","d":"0.4 L","T":211.0,"P":45},{"p":"R","d":"0.4 L","T":211.9,"P":43},{"p":"R","d":"0.4 L","T":213.3,"P":40},{"p":"R","d":"0.4 L","T":214.6,"P":36},{"p":"R","d":"0.4 L","T":216.2,"P":32},{"p":"R","d":"0.4 L","T":217.7,"P":29},{"p":"R","d":"0.4 L","T":219.7,"P":28},{"p":"R","d":"0.4 L","T":221.8,"P":26},{"p":"R","d":"0.4 L","T":224.2,"P":25},{"p":"R","d":"0.4 L","T":226.7,"P":23},{"p":"R","d":"0.4 L","T":229.6,"P":22},{"p":"R","d":"0.4 L","T":232.5,"P":21},{"p":"R","d":"0.4 L","T":235.6,"P":19},{"p":"R","d":"0.4 L","T":238.8,"P":18},{"p":"R","d":"0.4 L","T":242.7,"P":16},{"p":"R","d":"0.4 L","T":246.5,"P":14},{"p":"R","d":"0.4 L","T":250.1,"P":11},{"p":"R","d":"0.4 L","T":253.7,"P":9},{"p":"R","d":"0.4 L","T":257.5,"P":7},{"p":"R","d":"0.4 L","T":261.3,"P":6},{"p":"R","d":"0.4 L","T":265.8,"P":5},{"p":"R","d":"0.4 L","T":270.3,"P":4}
],
"ann": [
{"p":"S","kind":"title","T":262.8,"P":429,"label":"2.0 L PO/x L (S)-NEA/Pt(111) TPD"},
{"p":"S","kind":"sub","T":212,"P":383,"label":"(S)-PO"},
{"p":"S","kind":"peak","T":186,"P":337,"label":"185 K"},
{"p":"S","kind":"peak","T":210.3,"P":304,"label":"210 K"},
{"p":"S","kind":"sub","T":242.6,"P":335,"label":"(S)-NEA Exp"},
{"p":"S","kind":"doseR","T":252,"P":286,"label":"1.4 L"},
{"p":"S","kind":"doseR","T":252,"P":232,"label":"1.2 L"},
{"p":"S","kind":"doseB","T":252,"P":179,"label":"1.0 L"},
{"p":"S","kind":"doseB","T":252,"P":128,"label":"0.8 L"},
{"p":"S","kind":"doseB","T":252,"P":73,"label":"0.6 L"},
{"p":"S","kind":"doseB","T":252,"P":23,"label":"0.4 L"},
{"p":"R","kind":"sub","T":212,"P":383,"label":"(R)-PO"},
{"p":"R","kind":"peak","T":179.6,"P":335,"label":"180 K"},
{"p":"R","kind":"peak","T":205.7,"P":306,"label":"205 K"},
{"p":"R","kind":"sub","T":243.3,"P":335,"label":"(S)-NEA Exp"},
{"p":"R","kind":"doseR","T":251.9,"P":286,"label":"1.4 L"},
{"p":"R","kind":"doseR","T":251.9,"P":230,"label":"1.2 L"},
{"p":"R","kind":"doseB","T":251.9,"P":178,"label":"1.0 L"},
{"p":"R","kind":"doseB","T":251.9,"P":126,"label":"0.8 L"},
{"p":"R","kind":"doseB","T":251.9,"P":71,"label":"0.6 L"},
{"p":"R","kind":"doseB","T":251.9,"P":22,"label":"0.4 L"}
],
"dash": [
{"p":"S","T":185,"P":326,"P2":66},
{"p":"S","T":210,"P":293,"P2":33},
{"p":"R","T":180,"P":326,"P2":63},
{"p":"R","T":205,"P":294,"P2":34}
],
"frame": [
{"p":"S","T":272,"P":0,"P2":416},
{"p":"S","T":272,"P":453,"P2":464},
{"p":"R","T":158.5,"P":0,"P2":416},
{"p":"R","T":158.5,"P":453,"P2":464}
]
},
"layer": [
{
"encoding": {
  "x": {"field": "T", "type": "quantitative",
   "scale": {"domain": [158.5, 272], "range": [32, 286], "nice": false, "zero": false},
   "axis": {"orient": "bottom", "values": [160,165,170,175,180,185,190,195,200,205,210,215,220,225,230,235,240,245,250,255,260,265,270],
    "labelExpr": "(datum.value == 175 || datum.value == 200 || datum.value == 225 || datum.value == 250) ? datum.label : ''", "offset": -61, "grid": false,
    "domainColor": "#555555", "domainWidth": 1.5, "tickColor": "#555555", "tickWidth": 1.2, "tickSize": 5,
    "labelFontSize": 18, "labelColor": "#333333", "labelPadding": 13, "labelFlush": false, "labelOverlap": false, "labelBound": false,
    "title": "Temperature / K", "titleFontSize": 18, "titleFontWeight": "bold", "titleColor": "#111111", "titlePadding": 12}},
  "y": {"field": "P", "type": "quantitative",
   "scale": {"domain": [0, 464], "range": [464, 0], "nice": false, "zero": false},
   "axis": {"offset": -32, "grid": false, "ticks": false, "labels": false, "domainColor": "#555555", "domainWidth": 1.5,
    "title": "PO Partial Pressure / arb. units", "titleFontSize": 18, "titleFontWeight": "bold", "titleColor": "#111111", "titlePadding": 12}}
},
"layer": [
{"data": {"name": "curves"}, "transform": [{"filter": "datum.p == 'S'"}],
 "mark": {"type": "line", "clip": true, "strokeWidth": 1.4},
 "encoding": {
  "color": {"field": "d", "type": "nominal",
   "scale": {"domain": ["1.4 L","1.2 L","1.0 L","0.8 L","0.6 L","0.4 L"], "range": ["#b04a3c","#b04a3c","#5656a8","#5656a8","#5656a8","#5656a8"]},
   "legend": null}
 }},
{"data": {"name": "dash"}, "transform": [{"filter": "datum.p == 'S'"}],
 "mark": {"type": "rule", "strokeDash": [3, 2], "strokeWidth": 1.3, "color": "#333333"},
 "encoding": {"y2": {"field": "P2"}}},
{"data": {"name": "frame"}, "transform": [{"filter": "datum.p == 'S'"}],
 "mark": {"type": "rule", "strokeWidth": 1.5, "color": "#555555"},
 "encoding": {"y2": {"field": "P2"}}},
{"data": {"name": "ann"}, "transform": [{"filter": "datum.p == 'S' && datum.kind == 'title'"}],
 "mark": {"type": "text", "fontSize": 22, "fontWeight": "bold", "color": "#111111", "baseline": "middle"},
 "encoding": {"text": {"field": "label"}}},
{"data": {"name": "ann"}, "transform": [{"filter": "datum.p == 'S' && (datum.kind == 'sub')"}],
 "mark": {"type": "text", "fontSize": 18, "color": "#222222", "baseline": "middle"},
 "encoding": {"text": {"field": "label"}}},
{"data": {"name": "ann"}, "transform": [{"filter": "datum.p == 'S' && datum.kind == 'peak'"}],
 "mark": {"type": "text", "fontSize": 16, "color": "#222222", "baseline": "middle"},
 "encoding": {"text": {"field": "label"}}},
{"data": {"name": "ann"}, "transform": [{"filter": "datum.p == 'S' && datum.kind == 'doseR'"}],
 "mark": {"type": "text", "fontSize": 18, "color": "#c0503f", "baseline": "middle"},
 "encoding": {"text": {"field": "label"}}},
{"data": {"name": "ann"}, "transform": [{"filter": "datum.p == 'S' && datum.kind == 'doseB'"}],
 "mark": {"type": "text", "fontSize": 18, "color": "#454585", "baseline": "middle"},
 "encoding": {"text": {"field": "label"}}}
]
},
{
"encoding": {
  "x": {"field": "T", "type": "quantitative",
   "scale": {"domain": [158.5, 272], "range": [298, 552], "nice": false, "zero": false},
   "axis": {"orient": "bottom", "values": [160,165,170,175,180,185,190,195,200,205,210,215,220,225,230,235,240,245,250,255,260,265,270],
    "labelExpr": "(datum.value == 175 || datum.value == 200 || datum.value == 225 || datum.value == 250) ? datum.label : ''", "offset": -61, "grid": false,
    "domainColor": "#555555", "domainWidth": 1.5, "tickColor": "#555555", "tickWidth": 1.2, "tickSize": 5,
    "labelFontSize": 18, "labelColor": "#333333", "labelPadding": 13, "labelFlush": false, "labelOverlap": false, "labelBound": false,
    "title": "Temperature / K", "titleFontSize": 18, "titleFontWeight": "bold", "titleColor": "#111111", "titlePadding": 12}},
  "y": {"field": "P", "type": "quantitative"}
},
"layer": [
{"data": {"name": "curves"}, "transform": [{"filter": "datum.p == 'R'"}],
 "mark": {"type": "line", "clip": true, "strokeWidth": 1.4},
 "encoding": {"color": {"field": "d", "type": "nominal", "legend": null}}},
{"data": {"name": "dash"}, "transform": [{"filter": "datum.p == 'R'"}],
 "mark": {"type": "rule", "strokeDash": [3, 2], "strokeWidth": 1.3, "color": "#333333"},
 "encoding": {"y2": {"field": "P2"}}},
{"data": {"name": "frame"}, "transform": [{"filter": "datum.p == 'R'"}],
 "mark": {"type": "rule", "strokeWidth": 1.5, "color": "#555555"},
 "encoding": {"y2": {"field": "P2"}}},
{"data": {"name": "ann"}, "transform": [{"filter": "datum.p == 'R' && datum.kind == 'sub'"}],
 "mark": {"type": "text", "fontSize": 18, "color": "#222222", "baseline": "middle"},
 "encoding": {"text": {"field": "label"}}},
{"data": {"name": "ann"}, "transform": [{"filter": "datum.p == 'R' && datum.kind == 'peak'"}],
 "mark": {"type": "text", "fontSize": 16, "color": "#222222", "baseline": "middle"},
 "encoding": {"text": {"field": "label"}}},
{"data": {"name": "ann"}, "transform": [{"filter": "datum.p == 'R' && datum.kind == 'doseR'"}],
 "mark": {"type": "text", "fontSize": 18, "color": "#c0503f", "baseline": "middle"},
 "encoding": {"text": {"field": "label"}}},
{"data": {"name": "ann"}, "transform": [{"filter": "datum.p == 'R' && datum.kind == 'doseB'"}],
 "mark": {"type": "text", "fontSize": 18, "color": "#454585", "baseline": "middle"},
 "encoding": {"text": {"field": "label"}}}
]
}
],
"resolve": {"scale": {"x": "independent"}, "axis": {"x": "independent"}}
}
